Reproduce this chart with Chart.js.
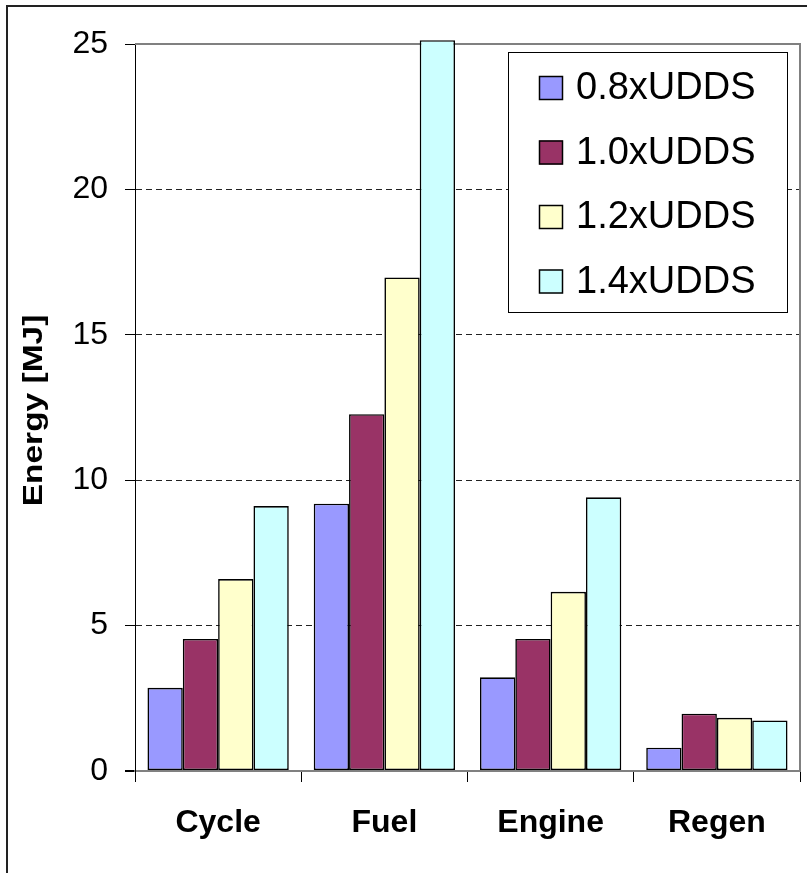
<!DOCTYPE html>
<html>
<head>
<meta charset="utf-8">
<script src="https://cdn.jsdelivr.net/npm/chart.js@4.4.1/dist/chart.umd.min.js"></script>
<style>
    html, body { margin: 0; padding: 0; background: #fff; overflow: hidden; }
    #frame { position: absolute; left: 6px; top: 5px; width: 900px; height: 1000px;
             border-left: 2px solid #222; border-top: 2px solid #222; }
    #chartEnergy { position: absolute; left: 0; top: 0; }
</style>
</head>
<body>
<div id="frame"></div>
<canvas id="chartEnergy" width="807" height="873"></canvas>
<script>
// values (MJ)
var categories = ['Cycle', 'Fuel', 'Engine', 'Regen'];
var seriesNames = ['0.8xUDDS', '1.0xUDDS', '1.2xUDDS', '1.4xUDDS'];
var udds08 = [2.86, 9.19, 3.22, 0.80];
var udds10 = [4.54, 12.27, 4.54, 1.97];
var udds12 = [6.60, 16.97, 6.16, 1.83];
var udds14 = [9.11, 25.13, 9.41, 1.74];
var yTicks = [0, 5, 10, 15, 20, 25];

var seriesData = [udds08, udds10, udds12, udds14];
var seriesColors = ['#9999FF', '#993366', '#FFFFCC', '#CCFFFF'];
var fontFamily = '"Liberation Sans", Arial, sans-serif';

var datasets = [];
for (var i in seriesNames) {
    datasets.push({
        label: seriesNames[i],
        data: seriesData[i],
        backgroundColor: seriesColors[i],
        borderColor: '#000',
        borderWidth: 1.6,
        borderSkipped: false,
        barPercentage: 1,
        categoryPercentage: 0.85,
        clip: false
    });
}

// gray frame on top and right of the plot area
var plotFrame = {
    id: 'plotFrame',
    beforeDatasetsDraw: function(chart) {
        var a = chart.chartArea, ctx = chart.ctx;
        ctx.save();
        ctx.strokeStyle = '#808080';
        ctx.lineWidth = 2;
        ctx.beginPath();
        ctx.moveTo(a.left, a.top);
        ctx.lineTo(a.right, a.top);
        ctx.lineTo(a.right, a.bottom);
        ctx.stroke();
        ctx.restore();
    }
};

// rotated, stretched axis title like the Excel original
var yTitle = {
    id: 'yTitle',
    afterDraw: function(chart) {
        var a = chart.chartArea, ctx = chart.ctx;
        ctx.save();
        ctx.translate(42, (a.top + a.bottom) / 2 + 3);
        ctx.rotate(-Math.PI / 2);
        ctx.scale(1.24, 1);
        ctx.font = 'bold 27px ' + fontFamily;
        ctx.fillStyle = '#000';
        ctx.textAlign = 'center';
        ctx.textBaseline = 'alphabetic';
        ctx.fillText('Energy [MJ]', 0, 0);
        ctx.restore();
    }
};

// legend box inside the plot, upper right
var legendBox = {
    id: 'legendBox',
    afterDraw: function(chart) {
        var ctx = chart.ctx;
        var x = 508, y = 52, w = 279, h = 260;
        ctx.save();
        ctx.fillStyle = '#fff';
        ctx.fillRect(x, y, w, h);
        ctx.strokeStyle = '#000';
        ctx.lineWidth = 1;
        ctx.strokeRect(x + 0.5, y + 0.5, w, h);
        ctx.font = '38px ' + fontFamily;
        ctx.textBaseline = 'middle';
        chart.data.datasets.forEach(function(ds, k) {
            var cy = 88 + k * 64.5;
            ctx.fillStyle = ds.backgroundColor;
            ctx.fillRect(539, cy - 12, 24, 24);
            ctx.lineWidth = 1.5;
            ctx.strokeRect(539.5, cy - 11.5, 23, 23);
            ctx.fillStyle = '#000';
            ctx.fillText(ds.label, 576, cy + 1);
        });
        ctx.restore();
    }
};

var ctx = document.getElementById('chartEnergy').getContext('2d');
var chart = new Chart(ctx, {
    type: 'bar',
    data: { labels: categories, datasets: datasets },
    plugins: [plotFrame, yTitle, legendBox],
    options: {
        responsive: false,
        animation: false,
        devicePixelRatio: 1,
        layout: { padding: { top: 44, right: 7, left: 0, bottom: 0 } },
        plugins: {
            legend: { display: false },
            tooltip: { enabled: false }
        },
        scales: {
            x: {
                grid: { offset: true, drawOnChartArea: false, tickLength: 11, tickColor: '#000', color: '#000' },
                border: { color: '#808080', width: 2 },
                ticks: { color: '#000', padding: 22, maxRotation: 0,
                         font: { size: 32, weight: 'bold', family: fontFamily } },
                afterFit: function(s) { s.height = 102; }
            },
            y: {
                min: 0,
                max: 25,
                afterBuildTicks: function(s) {
                    s.ticks = yTicks.map(function(v) { return { value: v }; });
                },
                grid: {
                    color: function(c) { return (c.tick.value === 0 || c.tick.value === 25) ? '#808080' : '#222'; },
                    lineWidth: function(c) { return c.tick.value === 0 ? 2 : 1; },
                    tickLength: 10,
                    tickColor: '#000'
                },
                border: {
                    color: '#000',
                    width: 1,
                    dash: function(c) { return (c.tick && c.tick.value % 25 !== 0) ? [6, 4] : []; }
                },
                ticks: { color: '#000', padding: 17, font: { size: 32, family: fontFamily } },
                afterFit: function(s) { s.width = 135; }
            }
        }
    }
});
</script>
</body>
</html>
